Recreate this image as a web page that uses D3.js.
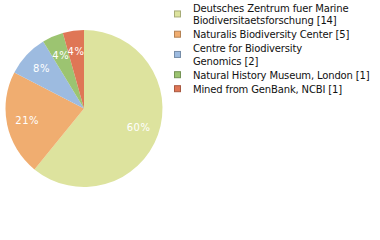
<!DOCTYPE html>
<html>
<head>
<meta charset="utf-8">
<script src="https://cdn.jsdelivr.net/npm/d3@7"></script>
<style>
  body { margin: 0; background: #fff; }
  svg { display: block; font-family: "DejaVu Sans", sans-serif; }
</style>
</head>
<body>
<svg id="pie-svg" width="380" height="240"></svg>
<script>
const labelLines = [
    ["Deutsches Zentrum fuer Marine", "Biodiversitaetsforschung [14]"],
    ["Naturalis Biodiversity Center [5]"],
    ["Centre for Biodiversity", "Genomics [2]"],
    ["Natural History Museum, London [1]"],
    ["Mined from GenBank, NCBI [1]"]
];
const counts = [14, 5, 2, 1, 1];
const colors = ["#dde39e", "#f0ad70", "#9dbbe0", "#9cc471", "#df7656"];

const size = {
    width: 380,
    height: 240,
    cx: 84,
    cy: 108.5,
    radius: 78.5
};
const svg = d3.select('#pie-svg');
const total = d3.sum(counts);

const data = counts.map((c, i) => ({ count: c, color: colors[i], lines: labelLines[i] }));

const pie = d3.pie().sort(null).value(d => d.count);
const arc = d3.arc().innerRadius(0).outerRadius(size.radius);
const labelArc = d3.arc().innerRadius(58).outerRadius(58);

const g = svg.append("g")
    .attr("transform", `translate(${size.cx}, ${size.cy})`);

const arcs = pie(data);

g.selectAll("path")
    .data(arcs)
    .join("path")
    .attr("d", arc)
    .attr("fill", d => d.data.color);

g.selectAll("text")
    .data(arcs)
    .join("text")
    .attr("transform", d => `translate(${labelArc.centroid(d)})`)
    .attr("text-anchor", "middle")
    .attr("dy", "0.35em")
    .attr("fill", "#fff")
    .attr("font-size", 10)
    .attr("letter-spacing", 0.6)
    .text(d => Math.floor(d.data.count / total * 100) + "%");

// legend
const lineH = 12.5, itemGap = 14;
let y = 11.7;
const legend = svg.append("g");
data.forEach(d => {
    const first = y;
    const item = legend.append("g");
    d.lines.forEach((t, j) => {
        item.append("text")
            .attr("x", 193)
            .attr("y", y + j * lineH)
            .attr("font-size", 10)
            .attr("letter-spacing", -0.15)
            .attr("fill", "#111")
            .text(t);
    });
    const last = y + (d.lines.length - 1) * lineH;
    const mid = (first + last) / 2 - 4;
    item.append("rect")
        .attr("x", 174.5)
        .attr("y", mid - 3)
        .attr("width", 6)
        .attr("height", 6)
        .attr("fill", d.color)
        .attr("stroke", d3.color(d.color).darker(0.8))
        .attr("stroke-width", 1);
    y = last + itemGap;
});
</script>
</body>
</html>
